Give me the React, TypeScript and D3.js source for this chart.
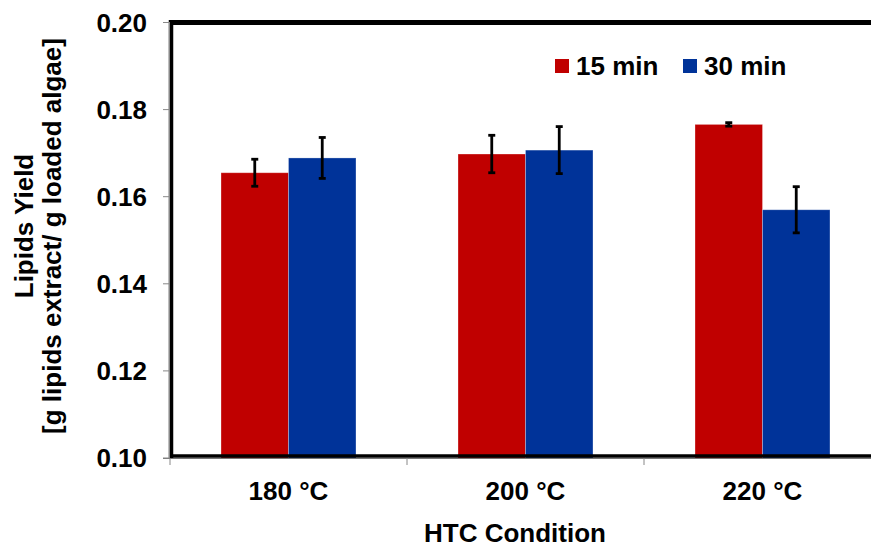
import React from "react";
import * as d3 from "d3";

const categories = ["180 °C", "200 °C", "220 °C"];
const seriesNames = ["15 min", "30 min"];
const seriesColors = ["#C00000", "#003399"];
const yield15 = [0.1655, 0.1698, 0.1766];
const yield30 = [0.1689, 0.1707, 0.157];
const err15 = [0.0031, 0.0043, 0.0004];
const err30 = [0.0047, 0.0054, 0.0053];
const yTicks = [0.1, 0.12, 0.14, 0.16, 0.18, 0.2];
const yTitle1 = "Lipids Yield";
const yTitle2 = "[g lipids extract/ g loaded algae]";
const xTitle = "HTC Condition";

export default function App() {
  const W = 871,
    H = 548;
  const left = 170,
    right = 881,
    top = 22.5,
    bottom = 458;
  const font = "'Liberation Sans', Arial, sans-serif";
  const fs = 26;

  const x0 = d3.scaleBand<string>().domain(categories).range([left, right]);
  const x1 = d3
    .scaleBand<string>()
    .domain(seriesNames)
    .range([0, x0.bandwidth()])
    .paddingOuter(0.756);
  const y = d3.scaleLinear().domain([0.1, 0.2]).range([bottom, top]);

  const series = [
    { name: seriesNames[0], values: yield15, errs: err15, color: seriesColors[0] },
    { name: seriesNames[1], values: yield30, errs: err30, color: seriesColors[1] },
  ];

  const boundaries = categories.map((c) => x0(c)!).concat([right]);

  return (
    <svg
      width={W}
      height={H}
      style={{ position: "absolute", left: 0, top: 0, background: "#fff" }}
      fontFamily={font}
      fontWeight="bold"
    >
      <rect x={0} y={0} width={W} height={H} fill="#fff" />
      {/* bars */}
      {series.map((s) =>
        categories.map((c, i) => {
          const bx = x0(c)! + x1(s.name)!;
          return (
            <rect
              key={s.name + c}
              x={bx}
              y={y(s.values[i])}
              width={x1.bandwidth()}
              height={y(0.1) - y(s.values[i])}
              fill={s.color}
              stroke="rgba(255,255,255,0.35)"
              strokeWidth={0.8}
            />
          );
        })
      )}
      {/* error bars */}
      {series.map((s) =>
        categories.map((c, i) => {
          const cx = x0(c)! + x1(s.name)! + x1.bandwidth() / 2;
          const y1 = y(s.values[i] + s.errs[i]);
          const y2 = y(s.values[i] - s.errs[i]);
          return (
            <g key={"e" + s.name + c} stroke="#000" strokeWidth={2.8}>
              <line x1={cx} x2={cx} y1={y1} y2={y2} />
              <line x1={cx - 3.5} x2={cx + 3.5} y1={y1} y2={y1} />
              <line x1={cx - 3.5} x2={cx + 3.5} y1={y2} y2={y2} />
            </g>
          );
        })
      )}
      {/* frame */}
      <line x1={169} x2={W} y1={top} y2={top} stroke="#000" strokeWidth={5} />
      <line x1={171} x2={171} y1={20} y2={458} stroke="#000" strokeWidth={4.5} />
      <line x1={169} x2={W} y1={456} y2={456} stroke="#000" strokeWidth={3.5} />
      {/* gray axes */}
      <line x1={169.5} x2={169.5} y1={top} y2={458} stroke="#888" strokeWidth={1} />
      <line x1={163} x2={W} y1={458.5} y2={458.5} stroke="#777" strokeWidth={1.2} />
      {yTicks.map((t) => (
        <line key={"yt" + t} x1={163} x2={170} y1={y(t)} y2={y(t)} stroke="#888" strokeWidth={1} />
      ))}
      {boundaries.map((b, i) => (
        <line key={"xt" + i} x1={b} x2={b} y1={458} y2={465} stroke="#888" strokeWidth={1} />
      ))}
      {/* y tick labels */}
      {yTicks.map((t) => (
        <text
          key={"yl" + t}
          x={147}
          y={y(t) + 9}
          textAnchor="end"
          fontSize={fs}
          fill="#000"
        >
          {d3.format(".2f")(t)}
        </text>
      ))}
      {/* x tick labels */}
      {categories.map((c) => (
        <text
          key={"xl" + c}
          x={x0(c)! + x0.bandwidth() / 2}
          y={500}
          textAnchor="middle"
          fontSize={fs}
          fill="#000"
        >
          {c}
        </text>
      ))}
      {/* x title */}
      <text x={515} y={542} textAnchor="middle" fontSize={fs} fill="#000">
        {xTitle}
      </text>
      {/* y title */}
      <text
        transform={`translate(33,226) rotate(-90)`}
        textAnchor="middle"
        fontSize={fs}
        fill="#000"
      >
        {yTitle1}
      </text>
      <text
        transform={`translate(61,236) rotate(-90)`}
        textAnchor="middle"
        fontSize={fs}
        fill="#000"
      >
        {yTitle2}
      </text>
      {/* legend */}
      {series.map((s, i) => {
        const lx = [555, 683][i];
        return (
          <g key={"lg" + s.name}>
            <rect x={lx} y={59} width={14} height={14} fill={s.color} />
            <text x={lx + 21} y={75} fontSize={fs} fill="#000">
              {s.name}
            </text>
          </g>
        );
      })}
    </svg>
  );
}
